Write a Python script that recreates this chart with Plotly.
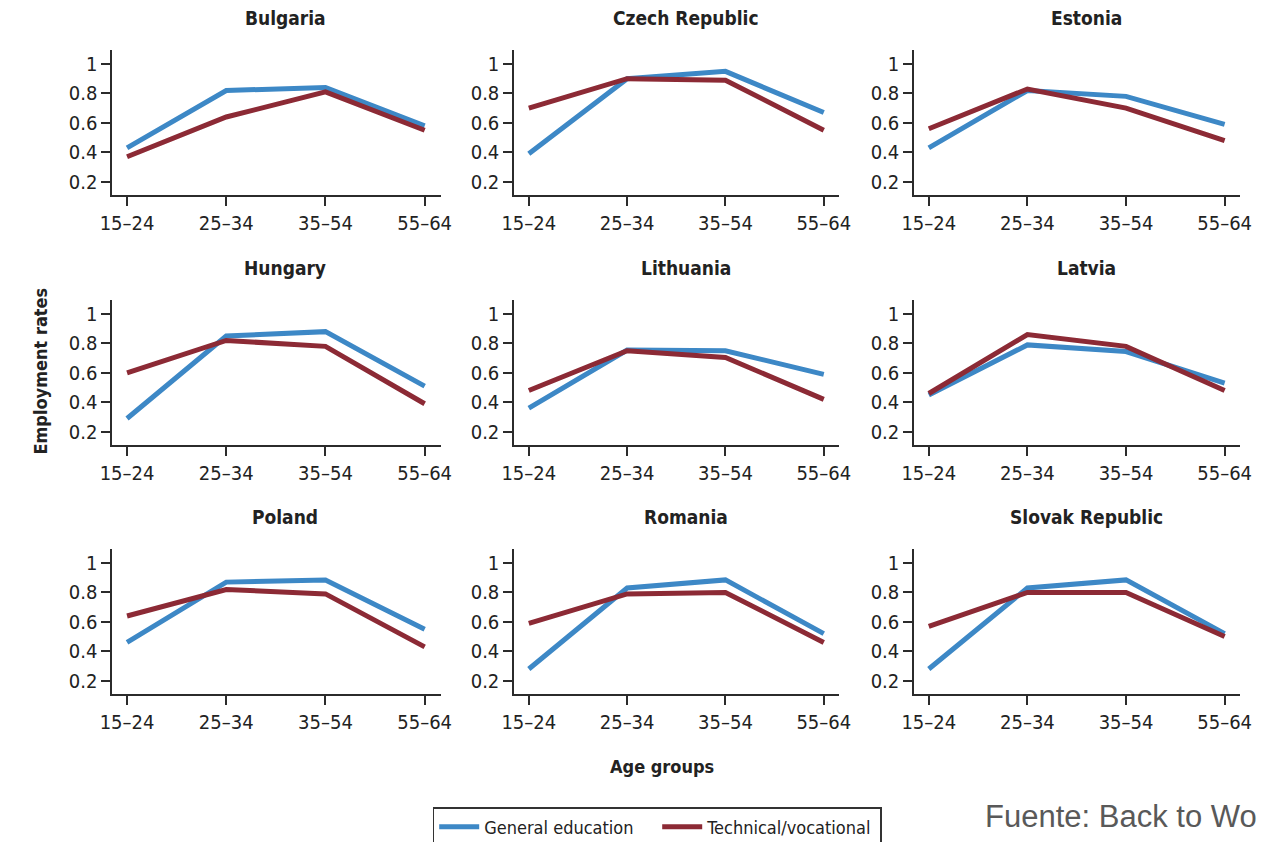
import plotly.graph_objects as go

W, H = 1265, 842

age_groups = ["15–24", "25–34", "35–54", "55–64"]
countries = [
    "Bulgaria", "Czech Republic", "Estonia",
    "Hungary", "Lithuania", "Latvia",
    "Poland", "Romania", "Slovak Republic",
]

general = {
    "Bulgaria": [0.43, 0.82, 0.84, 0.58],
    "Czech Republic": [0.39, 0.90, 0.95, 0.67],
    "Estonia": [0.43, 0.82, 0.78, 0.59],
    "Hungary": [0.29, 0.85, 0.88, 0.51],
    "Lithuania": [0.36, 0.755, 0.75, 0.59],
    "Latvia": [0.45, 0.79, 0.745, 0.53],
    "Poland": [0.46, 0.87, 0.885, 0.55],
    "Romania": [0.28, 0.83, 0.885, 0.52],
    "Slovak Republic": [0.28, 0.83, 0.885, 0.52],
}
technical = {
    "Bulgaria": [0.37, 0.64, 0.81, 0.55],
    "Czech Republic": [0.70, 0.90, 0.89, 0.55],
    "Estonia": [0.56, 0.83, 0.70, 0.48],
    "Hungary": [0.60, 0.82, 0.78, 0.39],
    "Lithuania": [0.48, 0.75, 0.705, 0.42],
    "Latvia": [0.46, 0.86, 0.78, 0.48],
    "Poland": [0.64, 0.82, 0.79, 0.43],
    "Romania": [0.59, 0.79, 0.80, 0.46],
    "Slovak Republic": [0.57, 0.80, 0.80, 0.50],
}
y_ticks = [0.2, 0.4, 0.6, 0.8, 1]
y_labels = ["0.2", "0.4", "0.6", "0.8", "1"]

BLUE = "#3d88c6"
RED = "#8c2a35"
AXIS = "#2b2b2b"
FONT = "Liberation Sans Narrow, DejaVu Sans Condensed, Arial Narrow, sans-serif"

# page body adds an 8px margin, so positions are shifted back by it
OFF = 8
cols = [(101, 436), (511, 843), (919, 1252)]
rows = [(50, 195), (300, 445), (549, 694)]


def px_x(v):
    return (v - OFF) / W


def px_y(v):
    return 1 - (v - OFF) / H


fig = go.Figure()
annotations = []

for i, name in enumerate(countries):
    r, c = divmod(i, 3)
    n = i + 1
    xa = "x" if n == 1 else f"x{n}"
    ya = "y" if n == 1 else f"y{n}"
    for series, color, label in [
        (general, BLUE, "General education"),
        (technical, RED, "Technical/vocational"),
    ]:
        fig.add_trace(
            go.Scatter(
                x=[0, 1, 2, 3],
                y=series[name],
                mode="lines",
                line=dict(color=color, width=5),
                name=label,
                showlegend=(i == 0),
                xaxis=xa,
                yaxis=ya,
                hoverinfo="x+y",
            )
        )
    x0, x1 = cols[c]
    y0, y1 = rows[r]
    axis_style = dict(
        showline=True,
        linecolor=AXIS,
        linewidth=1.5,
        ticks="outside",
        ticklen=9,
        tickwidth=1.5,
        tickcolor=AXIS,
        showgrid=False,
        zeroline=False,
        tickfont=dict(family=FONT, size=20, color="#222"),
    )
    fig.layout[f"xaxis{'' if n == 1 else n}"] = dict(
        domain=[px_x(x0), px_x(x1)],
        anchor=ya,
        range=[-0.15, 3.16],
        tickvals=[0, 1, 2, 3],
        ticktext=age_groups,
        **axis_style,
    )
    fig.layout[f"yaxis{'' if n == 1 else n}"] = dict(
        domain=[px_y(y1), px_y(y0)],
        anchor=xa,
        range=[0.11, 1.095],
        tickvals=y_ticks,
        ticktext=y_labels,
        **axis_style,
    )
    annotations.append(
        dict(
            text=f"<b>{name}</b>",
            x=px_x((x0 + x1) / 2 + 9),
            y=px_y(y0 - 32),
            xref="paper",
            yref="paper",
            xanchor="center",
            yanchor="middle",
            showarrow=False,
            font=dict(family=FONT, size=19, color="#222"),
        )
    )

annotations += [
    dict(
        text="<b>Employment rates</b>",
        x=px_x(27),
        y=px_y(371),
        xref="paper",
        yref="paper",
        xanchor="center",
        yanchor="middle",
        textangle=-90,
        showarrow=False,
        font=dict(family=FONT, size=18, color="#222"),
    ),
    dict(
        text="<b>Age groups</b>",
        x=px_x(662),
        y=px_y(766),
        xref="paper",
        yref="paper",
        xanchor="center",
        yanchor="middle",
        showarrow=False,
        font=dict(family=FONT, size=18, color="#222"),
    ),
    dict(
        text="Fuente: Back to Work",
        x=px_x(989),
        y=px_y(816),
        xref="paper",
        yref="paper",
        xanchor="left",
        yanchor="middle",
        showarrow=False,
        font=dict(family="Liberation Sans, Arial, sans-serif", size=31, color="#595959"),
    ),
]

fig.update_layout(
    width=W,
    height=H,
    margin=dict(l=0, r=0, t=0, b=0),
    plot_bgcolor="white",
    paper_bgcolor="white",
    annotations=annotations,
    showlegend=True,
    legend=dict(
        orientation="h",
        x=px_x(428),
        y=px_y(807),
        xanchor="left",
        yanchor="top",
        bordercolor="#333",
        borderwidth=1.5,
        font=dict(family=FONT, size=18, color="#222"),
        itemwidth=40,
        entrywidth=168,
        tracegroupgap=0,
    ),
)

fig.write_html("out.html")
